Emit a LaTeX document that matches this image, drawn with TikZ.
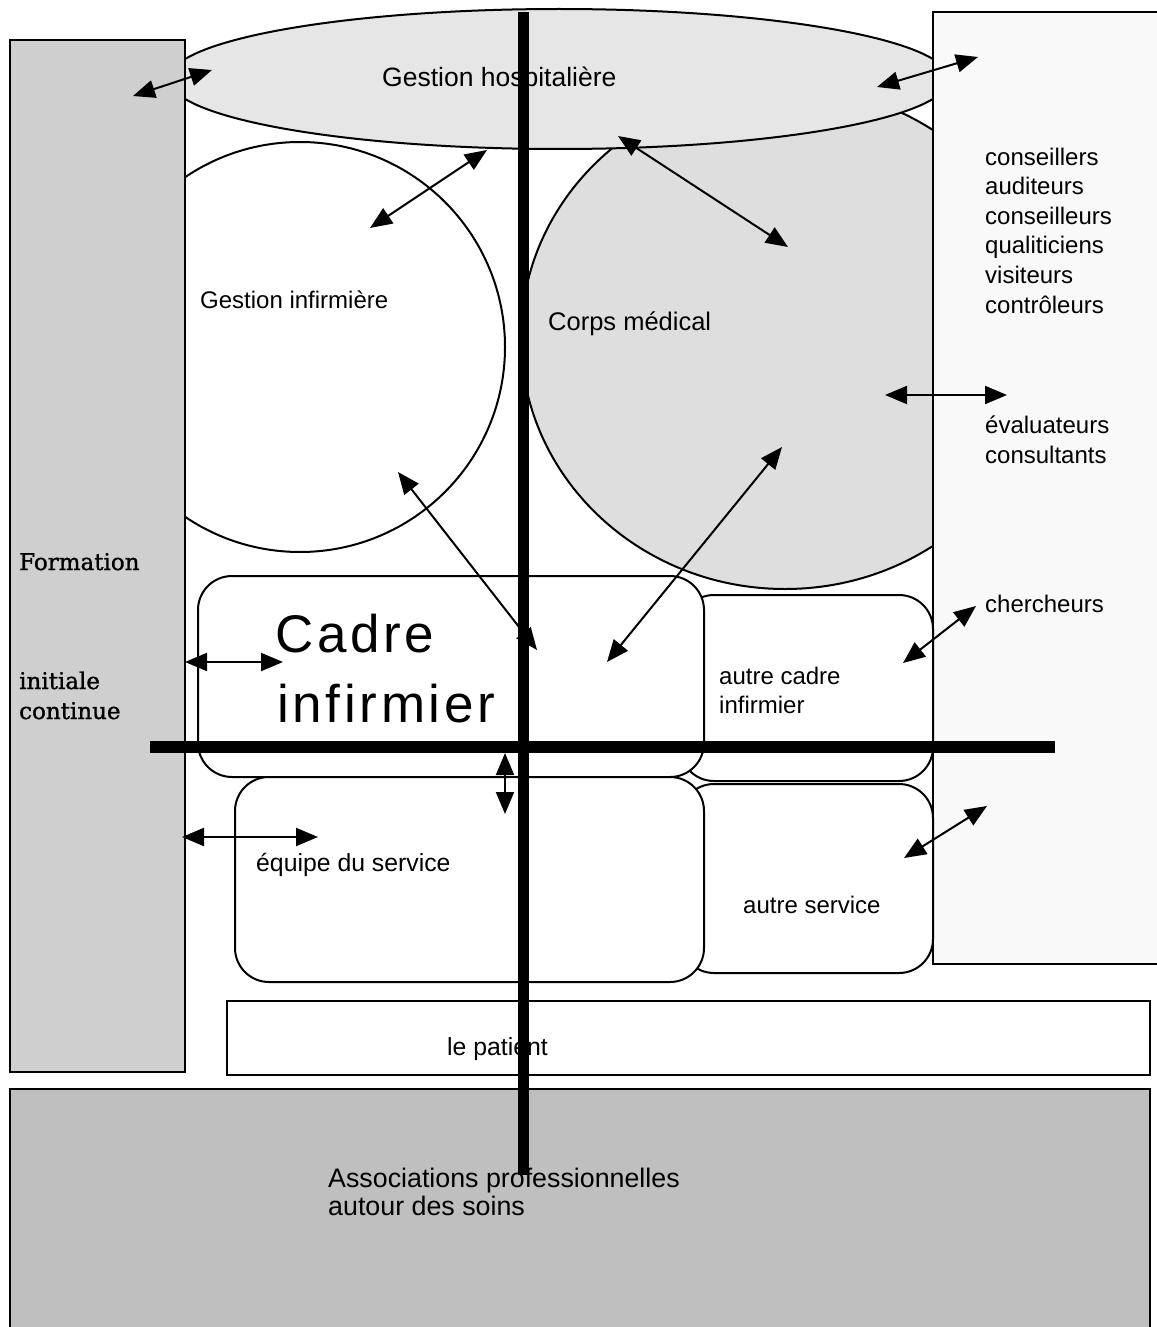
\documentclass[tikz,border=0pt]{standalone}
\usepackage{fontspec}
\setmainfont{Liberation Sans}
\newfontfamily\formfont[FakeBold=1.2]{DejaVu Serif}
\newfontfamily\bigfont[LetterSpace=7]{Liberation Sans}
\usetikzlibrary{shapes.geometric,arrows.meta}
\definecolor{gleft}{HTML}{CFCFCF}
\definecolor{ghosp}{HTML}{E6E6E6}
\definecolor{gcorps}{HTML}{DEDEDE}
\definecolor{gright}{HTML}{F9F9F9}
\definecolor{gassoc}{HTML}{BFBFBF}
\tikzset{
  outl/.style={draw=black, line width=2pt, inner sep=0pt, outer sep=0pt},
  panel/.style={outl, rectangle},
  rbox/.style={outl, rectangle, rounded corners=34pt, fill=white},
  txt/.style={anchor=base west, inner sep=0pt, font=\fontsize{24}{29}\selectfont},
  bigtxt/.style={txt, font=\bigfont\fontsize{53}{60}\selectfont},
  formtxt/.style={txt, font=\formfont\fontsize{23}{27}\selectfont},
  dbl/.style={line width=2pt, {Triangle[length=22pt,width=18pt]}-{Triangle[length=22pt,width=18pt]}},
  thick bar/.style={line width=11pt}
}
\begin{document}
\begin{tikzpicture}[x=1pt,y=-1pt]
\useasboundingbox (0,0) rectangle (1156,1327);
% big round shapes
\node[outl, circle, fill=white, minimum size=410pt] (ginf) at (300,347) {};
\node[outl, ellipse, fill=gcorps, minimum width=528pt, minimum height=502pt] (corps) at (785,338) {};
\node[outl, ellipse, fill=ghosp, minimum width=780pt, minimum height=140pt] (hosp) at (559,79) {};
% side panels
\node[panel, fill=gleft, minimum width=175pt, minimum height=1032pt] (form) at (97.5,556) {};
\node[panel, fill=gright, minimum width=237pt, minimum height=952pt] (ext) at (1051.5,488) {};
% rounded boxes
\node[rbox, minimum width=253pt, minimum height=186pt] (acadre) at (806.5,688) {};
\node[rbox, minimum width=253pt, minimum height=189pt] (aserv) at (806.5,878.5) {};
\node[rbox, minimum width=506pt, minimum height=201pt] (cadre) at (451,676.5) {};
\node[rbox, minimum width=469pt, minimum height=205pt] (equipe) at (469.5,879.5) {};
% bottom boxes
\node[panel, fill=white, minimum width=923pt, minimum height=74pt] (patient) at (688.5,1038) {};
\node[panel, fill=gassoc, minimum width=1140pt, minimum height=251pt] (assoc) at (580,1214.5) {};
% texts
\node[txt, font=\fontsize{26.5}{30}\selectfont] (thosp) at (382,87) {Gestion hospitalière};
\node[txt] (tginf) at (200,308) {Gestion infirmière};
\node[txt, font=\fontsize{25.5}{30}\selectfont] (tcorps) at (548,330) {Corps médical};
\foreach \w [count=\i from 0] in {conseillers,auditeurs,conseilleurs,qualiticiens,visiteurs,contrôleurs}
  \node[txt] (tadv\i) at (985,{165+29.6*\i}) {\w};
\node[txt] (teval) at (985,433) {évaluateurs};
\node[txt] (tcons) at (985,463) {consultants};
\node[txt] (tcherch) at (985,612) {chercheurs};
\node[txt] (tac1) at (719,684) {autre cadre};
\node[txt] (tac2) at (719,713) {infirmier};
\node[txt] (tas) at (743,913) {autre service};
\node[txt, font=\fontsize{24.8}{29}\selectfont] (teq) at (256,871) {équipe du service};
\node[txt, font=\fontsize{24.8}{29}\selectfont] (tpat) at (447,1055) {le patient};
\node[txt, font=\fontsize{26.8}{30}\selectfont] (tass1) at (328,1187) {Associations professionnelles};
\node[txt, font=\fontsize{26.8}{30}\selectfont] (tass2) at (328,1215) {autour des soins};
\node[bigtxt] (tcad1) at (275,652) {Cadre};
\node[bigtxt] (tcad2) at (277,722) {infirmier};
\node[formtxt] (tf1) at (19,570) {Formation};
\node[formtxt] (tf2) at (19,689) {initiale};
\node[formtxt] (tf3) at (19,719) {continue};
% thick axes
\coordinate (vtop) at (523,12);
\coordinate (vbot) at (523,1175);
\coordinate (hleft) at (150,747);
\coordinate (hright) at (1055,747);
\draw[thick bar] (vtop) -- (vbot);
\draw[line width=12pt] (hleft) -- (hright);
% arrows
\coordinate (a1s) at (133,96);   \coordinate (a1e) at (212,70);
\coordinate (a2s) at (877,87);   \coordinate (a2e) at (978,57);
\coordinate (a3s) at (370,228);  \coordinate (a3e) at (487,150);
\coordinate (a4s) at (618,136);  \coordinate (a4e) at (788,247);
\coordinate (a5s) at (885,395);  \coordinate (a5e) at (1007,395);
\coordinate (a6s) at (398,472);  \coordinate (a6e) at (537,650);
\coordinate (a7s) at (607,662);  \coordinate (a7e) at (782,447);
\coordinate (a8s) at (903,663);  \coordinate (a8e) at (976,606);
\coordinate (a9s) at (185,662);  \coordinate (a9e) at (283,662);
\coordinate (a10s) at (182,837); \coordinate (a10e) at (318,837);
\coordinate (a11s) at (505,753); \coordinate (a11e) at (505,814);
\coordinate (a12s) at (904,858); \coordinate (a12e) at (987,806);
\foreach \k in {1,...,12}
  \draw[dbl] (a\k s) -- (a\k e);
\end{tikzpicture}
\end{document}
